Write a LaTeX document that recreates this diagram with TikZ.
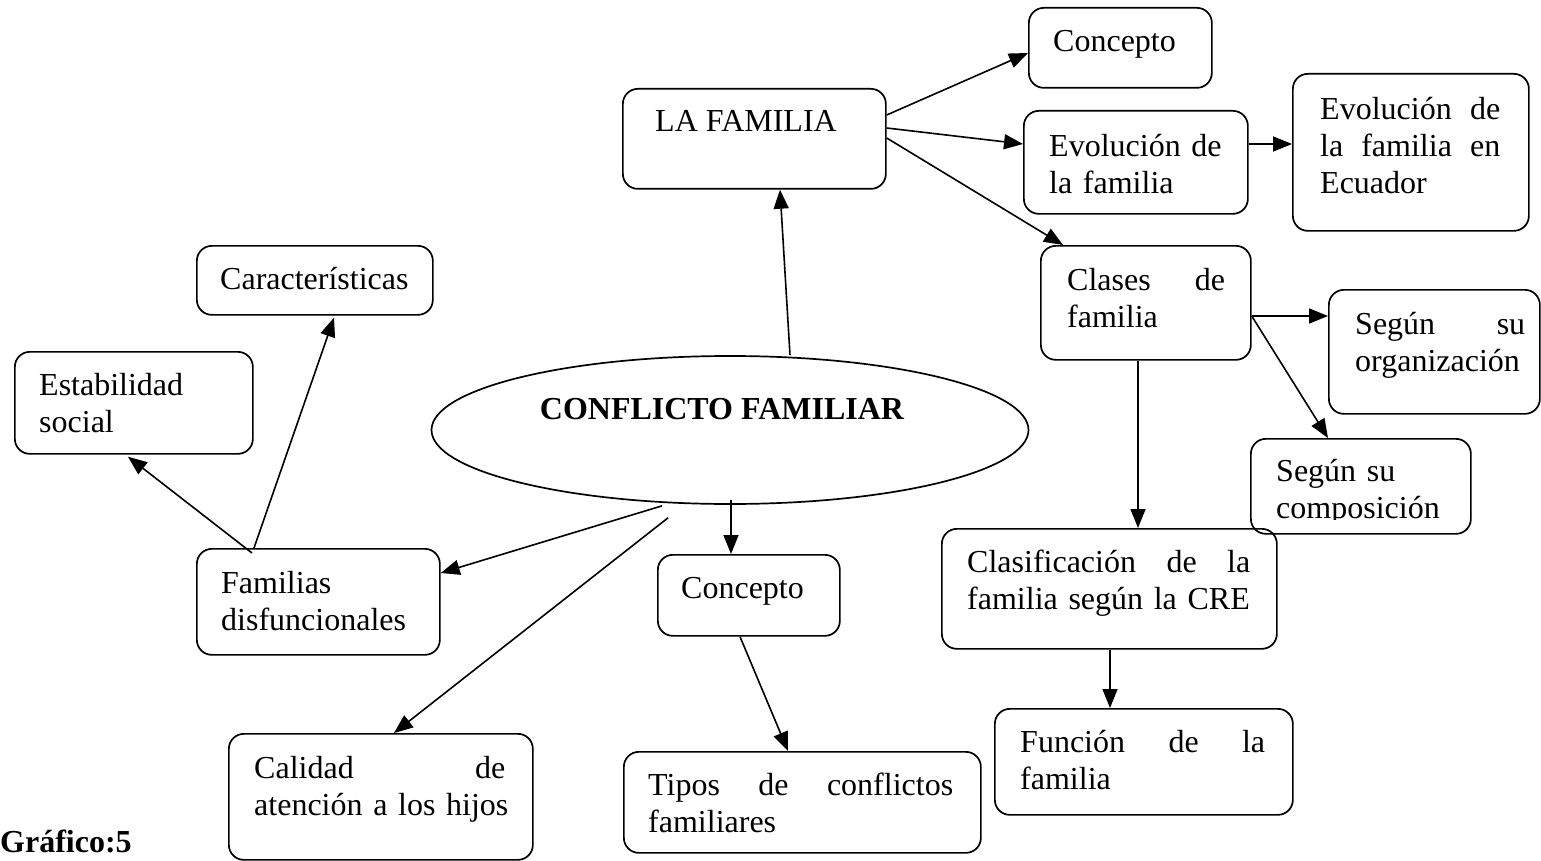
\documentclass[tikz,border=0pt]{standalone}
\usepackage{fontspec}
\setmainfont{Liberation Serif}
\usetikzlibrary{arrows.meta,shapes.geometric,calc}

\begin{document}
\begin{tikzpicture}[
	x = 1pt, y = -1pt,
	every node/.style = {font = \fontsize{32}{37}\selectfont},
	box/.style = {draw, line width = 1.7pt, rounded corners = 15pt, anchor = north west, inner sep = 0pt},
	txt/.style = {anchor = base west, inner sep = 0pt, align = left},
	link/.style = {line width = 1.6pt, -{Triangle[length = 19pt, width = 15pt]}}]

	\useasboundingbox (0,0) rectangle (1541,861);

	\node[draw, ellipse, line width = 1.7pt, minimum width = 597pt, minimum height = 148pt, inner sep = 0pt] (ell) at (730,430) {};
	\node[anchor = base, inner sep = 0pt] (ellt) at (722,419) {\bfseries CONFLICTO FAMILIAR};

	\node[box, minimum width = 263pt, minimum height = 100pt] (lafam) at (622,88) {};
	\node[txt] (lafamt) at (655,132) {LA FAMILIA};

	\node[box, minimum width = 183pt, minimum height = 80pt] (conc1) at (1028,7) {};
	\node[txt] (conc1t) at (1053,52) {Concepto};

	\node[box, minimum width = 224pt, minimum height = 103pt] (evol) at (1023,110) {};
	\node[txt, text width = 180pt] (evolt) at (1049,157) {Evolución de\\la familia};

	\node[box, minimum width = 236pt, minimum height = 157pt] (ecua) at (1292,73) {};
	\node[txt, text width = 180pt] (ecuat) at (1320,120) {Evolución\hfill de\\la\hfill familia\hfill en\\Ecuador};

	\node[box, minimum width = 210pt, minimum height = 114pt] (clases) at (1040,245) {};
	\node[txt, text width = 158pt] (clasest) at (1067,290) {Clases\hfill de\\familia};

	\node[box, minimum width = 211pt, minimum height = 124pt] (org) at (1328,289) {};
	\node[txt, text width = 170pt] (orgt) at (1355,334) {Según\hfill su\\organización};

	\node[box, minimum width = 220pt, minimum height = 95pt] (comp) at (1250,438) {};
	\begin{scope}
		\clip (1250,438) rectangle (1470,519);
		\node[txt, text width = 180pt] (compt) at (1276,481) {Según su\\composición};
	\end{scope}

	\node[box, minimum width = 335pt, minimum height = 120pt] (clasif) at (941,528) {};
	\node[txt, text width = 283pt] (clasift) at (967,572) {Clasificación\hfill de\hfill la\\familia según la CRE};

	\node[box, minimum width = 298pt, minimum height = 106pt] (func) at (994,708) {};
	\node[txt, text width = 245pt] (funct) at (1020,752) {Función\hfill de\hfill la\\familia};

	\node[box, minimum width = 236pt, minimum height = 69pt] (carac) at (196,245) {};
	\node[txt] (caract) at (220,289) {Características};

	\node[box, minimum width = 238pt, minimum height = 102pt] (estab) at (14,351) {};
	\node[txt, text width = 200pt] (estabt) at (39,395) {Estabilidad\\social};

	\node[box, minimum width = 243pt, minimum height = 106pt] (fdis) at (196,548) {};
	\node[txt, text width = 200pt] (fdist) at (221,593) {Familias\\disfuncionales};

	\node[box, minimum width = 182pt, minimum height = 81pt] (conc2) at (657,554) {};
	\node[txt] (conc2t) at (681,598) {Concepto};

	\node[box, minimum width = 304pt, minimum height = 126pt] (cal) at (228,733) {};
	\node[txt, text width = 251pt] (calt) at (254,778) {Calidad\hfill de\\\mbox{atención a los hijos}};

	\node[box, minimum width = 357pt, minimum height = 101pt] (tipos) at (623,751) {};
	\node[txt, text width = 305pt] (tipost) at (648,795) {Tipos\hfill de\hfill conflictos\\familiares};

	\node[txt] (graf) at (0,852) {\bfseries Gráfico:5};

	\draw[link] ($(ell.north)+(60,0)$) -- ($(lafam.south west)+(158,0)$);
	\draw[link] ($(lafam.north east)+(0,27)$) -- ($(conc1.north west)+(0,46)$);
	\draw[link] ($(lafam.north east)+(0,40)$) -- ($(evol.north west)+(0,34)$);
	\draw[link] ($(lafam.north east)+(0,50)$) -- ($(clases.north west)+(23,0)$);
	\draw[link] ($(evol.north east)+(0,34)$) -- ($(ecua.north west)+(0,71)$);
	\draw[link] ($(clases.north east)+(0,71)$) -- ($(org.north west)+(0,27)$);
	\draw[link] ($(clases.north east)+(0,71)$) -- ($(comp.north west)+(78,0)$);
	\draw[link] ($(clases.south west)+(98,0)$) -- ($(clasif.north west)+(197,0)$);
	\draw[link] ($(clasif.south west)+(169,0)$) -- ($(func.north west)+(116,0)$);
	\draw[link] ($(ell.south)+(1,-5)$) -- ($(conc2.north west)+(74,0)$);
	\draw[link] ($(conc2.south west)+(83,0)$) -- ($(tipos.north west)+(165,0)$);
	\draw[link] ($(ell.south)+(-68,1)$) -- ($(fdis.north east)+(0,25)$);
	\draw[link] ($(ell.south)+(-62,13)$) -- ($(cal.north west)+(166,0)$);
	\draw[link] ($(fdis.north west)+(56,5)$) -- ($(estab.south west)+(114,2)$);
	\draw[link] ($(fdis.north west)+(58,0)$) -- ($(carac.south west)+(138,2)$);

\end{tikzpicture}
\end{document}
